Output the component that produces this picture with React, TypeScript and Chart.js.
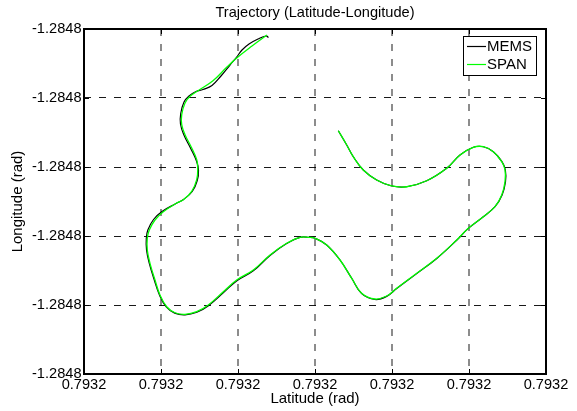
import React, { useEffect, useRef } from "react";
import { Chart, registerables } from "chart.js";

Chart.register(...registerables);

// ---- Data (axis units: x 0..6 grid steps, y 0..5 grid steps) ----
const TITLE = "Trajectory (Latitude-Longitude)";
const X_LABEL = "Latitude (rad)";
const Y_LABEL = "Longitude (rad)";
const SERIES_LABELS = ["MEMS", "SPAN"];
const X_TICK_LABELS = ["0.7932", "0.7932", "0.7932", "0.7932", "0.7932", "0.7932", "0.7932"];
const Y_TICK_LABELS = ["-1.2848", "-1.2848", "-1.2848", "-1.2848", "-1.2848", "-1.2848"];

const SPAN_X = [2.377, 2.182, 1.983, 1.853, 1.675, 1.481, 1.377, 1.312, 1.269, 1.269, 1.312,
  1.399, 1.464, 1.477, 1.464, 1.399, 1.290, 1.204, 1.030, 0.922, 0.848,
  0.822, 0.822, 0.857, 0.922, 0.987, 1.074, 1.182, 1.312, 1.464, 1.614,
  1.809, 1.983, 2.199, 2.416, 2.632, 2.805, 2.922, 3.000, 3.152, 3.325,
  3.477, 3.606, 3.779, 3.931, 4.061, 4.321, 4.581, 4.840, 4.991, 5.186,
  5.338, 5.425, 5.468, 5.468, 5.425, 5.316, 5.186, 5.056, 4.883, 4.710,
  4.451, 4.191, 3.996, 3.801, 3.627, 3.497, 3.412, 3.303];
const SPAN_Y = [4.913, 4.754, 4.580, 4.445, 4.251, 4.106, 4.025, 3.928, 3.758, 3.613, 3.468,
  3.275, 3.106, 2.986, 2.816, 2.648, 2.526, 2.478, 2.352, 2.232, 2.087,
  1.967, 1.797, 1.604, 1.362, 1.145, 0.975, 0.888, 0.865, 0.903, 1.000,
  1.193, 1.362, 1.507, 1.725, 1.894, 1.981, 1.981, 1.967, 1.870, 1.652,
  1.387, 1.170, 1.087, 1.130, 1.242, 1.459, 1.677, 1.942, 2.112, 2.280,
  2.425, 2.594, 2.787, 2.957, 3.077, 3.222, 3.294, 3.286, 3.174, 2.981,
  2.801, 2.714, 2.725, 2.812, 2.957, 3.149, 3.319, 3.526];

const MEMS_X = [2.396, 2.364, 2.260, 2.143, 2.052, 1.983, 1.896, 1.779, 1.662, 1.545,
  1.455, 1.364, 1.299, 1.256, 1.253, 1.295, 1.386, 1.461, 1.487, 1.471,
  1.406, 1.292, 1.195, 1.013, 0.903, 0.829, 0.809, 0.812,
  0.848, 0.913, 0.980, 1.068, 1.178, 1.312, 1.466, 1.616, 1.812, 1.986,
  2.199, 2.416, 2.632, 2.805, 2.922, 3.000, 3.152, 3.325, 3.477, 3.606,
  3.779, 3.931, 4.061, 4.321, 4.581, 4.840, 4.991, 5.186, 5.338, 5.430,
  5.474, 5.472, 5.428, 5.316, 5.186, 5.056, 4.883, 4.710, 4.451, 4.191,
  3.996, 3.801, 3.627, 3.497, 3.412, 3.303];
const MEMS_Y = [4.877, 4.899, 4.855, 4.783, 4.696, 4.594, 4.478, 4.319, 4.181, 4.123,
  4.094, 4.029, 3.942, 3.775, 3.623, 3.471, 3.268, 3.087, 2.957, 2.804,
  2.645, 2.529, 2.471, 2.355, 2.239, 2.087, 1.967, 1.797,
  1.604, 1.362, 1.145, 0.972, 0.882, 0.858, 0.895, 0.990, 1.180, 1.352,
  1.495, 1.718, 1.890, 1.981, 1.981, 1.967, 1.870, 1.652, 1.387, 1.165,
  1.080, 1.125, 1.238, 1.455, 1.674, 1.938, 2.110, 2.280, 2.425, 2.594,
  2.787, 2.957, 3.077, 3.222, 3.294, 3.286, 3.174, 2.981, 2.801, 2.714,
  2.725, 2.812, 2.957, 3.149, 3.319, 3.526];

const FONT_FAMILY = "'Liberation Sans', Arial, Helvetica, sans-serif";

const framePlugin = {
  id: "matlabFrame",
  afterDraw(chart: any) {
    const { ctx, chartArea } = chart;
    const { left, right, top, bottom } = chartArea;
    const xs = chart.scales.x;
    const ys = chart.scales.y;
    ctx.save();
    // inward tick marks on all four sides
    ctx.strokeStyle = "#000";
    ctx.lineWidth = 1;
    ctx.setLineDash([]);
    ctx.beginPath();
    xs.ticks.forEach((t: any) => {
      const px = Math.round(xs.getPixelForValue(t.value)) + 0.5;
      ctx.moveTo(px, bottom); ctx.lineTo(px, bottom - 5);
      ctx.moveTo(px, top); ctx.lineTo(px, top + 5);
    });
    ys.ticks.forEach((t: any) => {
      const py = Math.round(ys.getPixelForValue(t.value)) + 0.5;
      ctx.moveTo(left, py); ctx.lineTo(left + 5, py);
      ctx.moveTo(right, py); ctx.lineTo(right - 5, py);
    });
    ctx.stroke();
    // axes box
    ctx.lineWidth = 2;
    ctx.strokeRect(left, top, right - left, bottom - top);

    // title
    ctx.fillStyle = "#000";
    ctx.font = `14.6px ${FONT_FAMILY}`;
    ctx.textAlign = "center";
    ctx.textBaseline = "middle";
    ctx.fillText(TITLE, (left + right) / 2, 12.8);

    // legend box (top-right, inside axes)
    ctx.font = `15px ${FONT_FAMILY}`;
    const items = chart.data.datasets.map((d: any) => ({ label: d.label, color: d.borderColor }));
    const textW = Math.max(...items.map((it: any) => ctx.measureText(it.label).width));
    const boxW = 4 + 19 + 1 + textW + 4;
    const rowH = 18;
    const boxH = 3 + rowH * items.length;
    const bx = right - 10 - boxW;
    const by = top + 7;
    ctx.fillStyle = "#fff";
    ctx.fillRect(bx, by, boxW, boxH);
    ctx.lineWidth = 1;
    ctx.strokeStyle = "#000";
    ctx.strokeRect(Math.round(bx) + 0.5, Math.round(by) + 0.5, Math.round(boxW), Math.round(boxH));
    ctx.textAlign = "left";
    items.forEach((it: any, i: number) => {
      const cy = by + 10.5 + i * rowH;
      ctx.strokeStyle = it.color;
      ctx.lineWidth = 1.2;
      ctx.beginPath();
      ctx.moveTo(bx + 4, cy);
      ctx.lineTo(bx + 23, cy);
      ctx.stroke();
      ctx.fillStyle = "#000";
      ctx.fillText(it.label, bx + 24, cy);
    });
    ctx.restore();
  },
};

export default function App() {
  const ref = useRef<HTMLCanvasElement | null>(null);

  useEffect(() => {
    if (!ref.current) return;
    const tickFont = { family: FONT_FAMILY, size: 14.6 };
    const chart = new Chart(ref.current, {
      type: "scatter",
      data: {
        datasets: [
          {
            label: SERIES_LABELS[0],
            data: MEMS_X.map((x, i) => ({ x, y: MEMS_Y[i] })),
            showLine: true,
            borderColor: "#000000",
            backgroundColor: "#000000",
            borderWidth: 1.2,
            pointRadius: 0,
            tension: 0.4,
            order: 1,
          },
          {
            label: SERIES_LABELS[1],
            data: SPAN_X.map((x, i) => ({ x, y: SPAN_Y[i] })),
            showLine: true,
            borderColor: "#00ff00",
            backgroundColor: "#00ff00",
            borderWidth: 1.3,
            pointRadius: 0,
            tension: 0.4,
            order: 0,
          },
        ],
      },
      options: {
        responsive: false,
        animation: false,
        devicePixelRatio: 1,
        layout: { padding: { top: 29, right: 31, left: 0, bottom: 0 } },
        plugins: {
          legend: { display: false },
          title: { display: false },
          tooltip: { enabled: false },
        },
        scales: {
          x: {
            type: "linear",
            min: 0,
            max: 6,
            afterFit: (s: any) => { s.height = 37; },
            ticks: {
              stepSize: 1,
              padding: 2.5,
              maxRotation: 0,
              autoSkip: false,
              color: "#000",
              font: tickFont,
              callback: (v: any) => X_TICK_LABELS[Math.round(Number(v))] ?? "",
            },
            grid: { color: "rgba(0,0,0,0.45)", lineWidth: 2, drawTicks: false },
            border: { display: false, dash: [7, 8] },
            title: {
              display: true,
              text: X_LABEL,
              color: "#000",
              font: { family: FONT_FAMILY, size: 15 },
              padding: { top: 0, bottom: 3 },
            },
          },
          y: {
            type: "linear",
            min: 0,
            max: 5,
            afterFit: (s: any) => { s.width = 84; },
            ticks: {
              stepSize: 1,
              padding: 2.5,
              autoSkip: false,
              color: "#000",
              font: tickFont,
              callback: (v: any) => Y_TICK_LABELS[Math.round(Number(v))] ?? "",
            },
            grid: { color: "rgba(0,0,0,0.9)", lineWidth: 1, drawTicks: false },
            border: { display: false, dash: [7, 8] },
            title: {
              display: true,
              text: Y_LABEL,
              color: "#000",
              font: { family: FONT_FAMILY, size: 15 },
              padding: { top: 9, bottom: 0 },
            },
          },
        },
      },
      plugins: [framePlugin],
    });
    return () => chart.destroy();
  }, []);

  return (
    <div style={{ position: "absolute", left: 0, top: 0, width: 577, height: 411, background: "#fff" }}>
      <canvas ref={ref} width={577} height={411} style={{ display: "block" }} />
    </div>
  );
}
